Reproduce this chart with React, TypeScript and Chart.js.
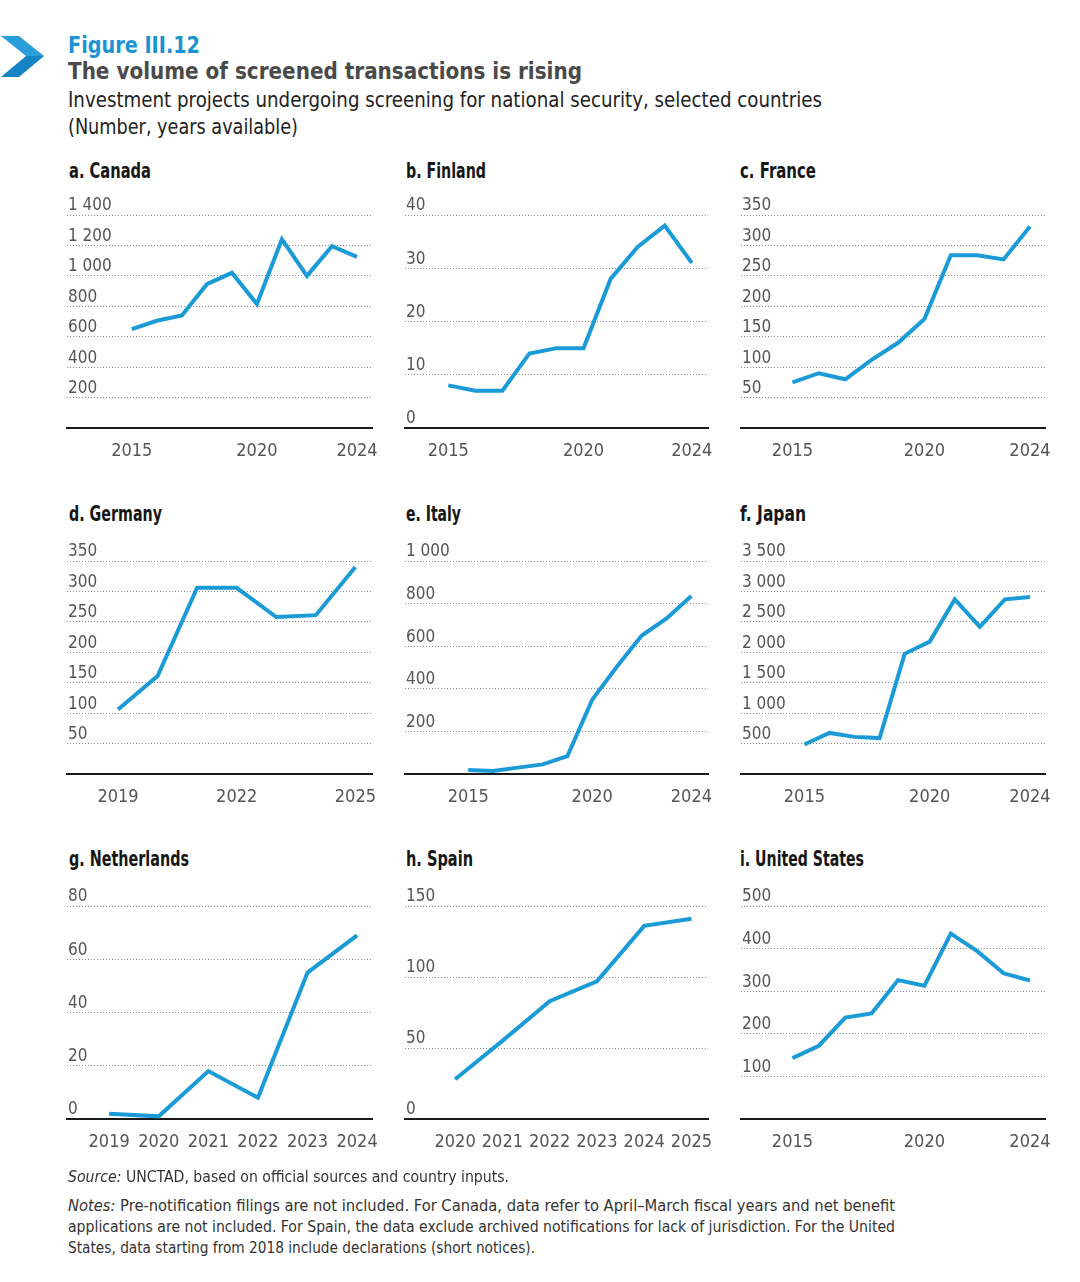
import React, { useEffect, useLayoutEffect, useRef } from 'react';
import { Chart, registerables } from 'chart.js';

Chart.register(...registerables);

const FONT = "'Liberation Sans Narrow', 'DejaVu Sans Condensed', 'Roboto Condensed', 'Arial Narrow', 'Liberation Sans', sans-serif";
const LINE_COLOR = '#1a9bd7';
const GRID_COLOR = '#8a8a8a';
const TICK_COLOR = '#555555';
const BLUE = '#1b93d3';

// ---------- data ----------
const canadaYears = [2015, 2016, 2017, 2018, 2019, 2020, 2021, 2022, 2023, 2024];
const canadaValues = [650, 705, 740, 945, 1020, 815, 1240, 1000, 1195, 1125];
const canadaXTicks = [2015, 2020, 2024];

const finlandYears = [2015, 2016, 2017, 2018, 2019, 2020, 2021, 2022, 2023, 2024];
const finlandValues = [8, 7, 7, 14, 15, 15, 28, 34, 38, 31];
const finlandXTicks = [2015, 2020, 2024];

const franceYears = [2015, 2016, 2017, 2018, 2019, 2020, 2021, 2022, 2023, 2024];
const franceValues = [75, 90, 80, 112, 140, 179, 284, 284, 277, 331];
const franceXTicks = [2015, 2020, 2024];

const germanyYears = [2019, 2020, 2021, 2022, 2023, 2024, 2025];
const germanyValues = [106, 161, 306, 306, 258, 261, 340];
const germanyXTicks = [2019, 2022, 2025];

const italyYears = [2015, 2016, 2017, 2018, 2019, 2020, 2021, 2022, 2023, 2024];
const italyValues = [19, 14, 30, 45, 84, 349, 505, 650, 730, 836];
const italyXTicks = [2015, 2020, 2024];

const japanYears = [2015, 2016, 2017, 2018, 2019, 2020, 2021, 2022, 2023, 2024];
const japanValues = [485, 675, 610, 590, 1975, 2175, 2870, 2420, 2870, 2910];
const japanXTicks = [2015, 2020, 2024];

const netherlandsYears = [2019, 2020, 2021, 2022, 2023, 2024];
const netherlandsValues = [2, 1, 18, 8, 55, 69];
const netherlandsXTicks = [2019, 2020, 2021, 2022, 2023, 2024];

const spainYears = [2020, 2021, 2022, 2023, 2024, 2025];
const spainValues = [28, 55, 83, 97, 136, 141];
const spainXTicks = [2020, 2021, 2022, 2023, 2024, 2025];

const usYears = [2015, 2016, 2017, 2018, 2019, 2020, 2021, 2022, 2023, 2024];
const usValues = [143, 172, 238, 248, 326, 313, 435, 394, 342, 325];
const usXTicks = [2015, 2020, 2024];

// ---------- layout ----------
const COLS = [
  { left: 67, right: 372, titleX: 69 },
  { left: 405, right: 708, titleX: 406 },
  { left: 741, right: 1045, titleX: 740 },
];
const ROWS = [
  { top: 215, base: 428, titleY: 171 },
  { top: 561, base: 774, titleY: 514 },
  { top: 906, base: 1119, titleY: 859 },
];
const PAD_L = 20;
const PAD_R = 30;
const PAD_T = 34;
const PAD_B = 6;

type PanelSpec = {
  title: string;
  titleW: number;
  years: number[];
  values: number[];
  xTicks: number[];
  xMin: number;
  xMax: number;
  yMax: number;
  yStep: number;
  showZero: boolean;
  col: number;
  row: number;
};

const panels: PanelSpec[] = [
  { title: 'a. Canada', titleW: 82, years: canadaYears, values: canadaValues, xTicks: canadaXTicks, xMin: 2012.41, xMax: 2024.6, yMax: 1400, yStep: 200, showZero: false, col: 0, row: 0 },
  { title: 'b. Finland', titleW: 80, years: finlandYears, values: finlandValues, xTicks: finlandXTicks, xMin: 2013.4, xMax: 2024.6, yMax: 40, yStep: 10, showZero: true, col: 1, row: 0 },
  { title: 'c. France', titleW: 76, years: franceYears, values: franceValues, xTicks: franceXTicks, xMin: 2013.05, xMax: 2024.57, yMax: 350, yStep: 50, showZero: false, col: 2, row: 0 },
  { title: 'd. Germany', titleW: 93, years: germanyYears, values: germanyValues, xTicks: germanyXTicks, xMin: 2017.71, xMax: 2025.42, yMax: 350, yStep: 50, showZero: false, col: 0, row: 1 },
  { title: 'e. Italy', titleW: 55, years: italyYears, values: italyValues, xTicks: italyXTicks, xMin: 2012.45, xMax: 2024.67, yMax: 1000, yStep: 200, showZero: false, col: 1, row: 1 },
  { title: 'f. Japan', titleW: 66, years: japanYears, values: japanValues, xTicks: japanXTicks, xMin: 2012.47, xMax: 2024.6, yMax: 3500, yStep: 500, showZero: false, col: 2, row: 1 },
  { title: 'g. Netherlands', titleW: 120, years: netherlandsYears, values: netherlandsValues, xTicks: netherlandsXTicks, xMin: 2018.15, xMax: 2024.3, yMax: 80, yStep: 20, showZero: true, col: 0, row: 2 },
  { title: 'h. Spain', titleW: 67, years: spainYears, values: spainValues, xTicks: spainXTicks, xMin: 2018.94, xMax: 2025.35, yMax: 150, yStep: 50, showZero: true, col: 1, row: 2 },
  { title: 'i. United States', titleW: 124, years: usYears, values: usValues, xTicks: usXTicks, xMin: 2013.05, xMax: 2024.57, yMax: 500, yStep: 100, showZero: false, col: 2, row: 2 },
];

function fmtThousands(v: number): string {
  if (Math.abs(v) >= 1000) {
    const t = Math.floor(v / 1000);
    const r = Math.round(v % 1000);
    return `${t} ${String(r).padStart(3, '0')}`;
  }
  return String(v);
}

function makeConfig(p: PanelSpec): any {
  return {
    type: 'line',
    data: {
      datasets: [
        {
          data: p.years.map((yr, i) => ({ x: yr, y: p.values[i] })),
          borderColor: LINE_COLOR,
          backgroundColor: LINE_COLOR,
          borderWidth: 4,
          pointRadius: 0,
          pointHoverRadius: 0,
          tension: 0,
          fill: false,
          borderJoinStyle: 'miter',
          borderCapStyle: 'butt',
        },
      ],
    },
    options: {
      animation: false,
      responsive: false,
      maintainAspectRatio: false,
      events: [],
      layout: { padding: { left: PAD_L, right: PAD_R, top: PAD_T, bottom: PAD_B } },
      plugins: { legend: { display: false }, tooltip: { enabled: false }, title: { display: false } },
      scales: {
        x: {
          type: 'linear',
          min: p.xMin,
          max: p.xMax,
          grid: { display: false, drawTicks: false },
          border: { display: true, color: '#1a1a1a', width: 2 },
          afterBuildTicks: (axis: any) => {
            axis.ticks = p.xTicks.map((v) => ({ value: v }));
          },
          ticks: {
            autoSkip: false,
            maxRotation: 0,
            minRotation: 0,
            padding: 14,
            color: TICK_COLOR,
            font: { family: FONT, size: 18, lineHeight: 1 },
            callback: (v: any) => String(v),
          },
        },
        y: {
          type: 'linear',
          min: 0,
          max: p.yMax,
          grid: {
            drawTicks: false,
            lineWidth: 1,
            color: (ctx: any) => (ctx.tick && ctx.tick.value === 0 ? 'rgba(0,0,0,0)' : GRID_COLOR),
          },
          border: { display: false, dash: [1, 2] },
          ticks: {
            stepSize: p.yStep,
            mirror: true,
            padding: 1,
            labelOffset: -9,
            color: TICK_COLOR,
            font: { family: FONT, size: 17, lineHeight: 1 },
            callback: (v: any) => (v === 0 && !p.showZero ? '' : fmtThousands(v)),
          },
        },
      },
    },
  };
}

function MiniChart({ p }: { p: PanelSpec }) {
  const ref = useRef<HTMLCanvasElement | null>(null);
  const col = COLS[p.col];
  const row = ROWS[p.row];
  const areaW = col.right - col.left;
  const areaH = row.base - row.top;
  const initW = areaW + PAD_L + PAD_R;
  const initH = areaH + PAD_T + PAD_B + 46;

  useEffect(() => {
    const canvas = ref.current;
    if (!canvas) return;
    let w = initW;
    let h = initH;
    const build = () => {
      canvas.width = w;
      canvas.height = h;
      canvas.style.width = w + 'px';
      canvas.style.height = h + 'px';
      return new Chart(canvas, makeConfig(p));
    };
    let chart = build();
    let ca = chart.chartArea;
    const dw = areaW - (ca.right - ca.left);
    const dh = areaH - (ca.bottom - ca.top);
    if (Math.abs(dw) > 0.5 || Math.abs(dh) > 0.5) {
      chart.destroy();
      w = Math.round(w + dw);
      h = Math.round(h + dh);
      chart = build();
      ca = chart.chartArea;
    }
    canvas.style.left = col.left - ca.left + 'px';
    canvas.style.top = row.top - ca.top + 'px';
    return () => {
      chart.destroy();
    };
  }, []);

  return (
    <canvas
      ref={ref}
      width={initW}
      height={initH}
      style={{ position: 'absolute', left: col.left - PAD_L, top: row.top - PAD_T, width: initW, height: initH }}
    />
  );
}

function Txt({ x, cy, w, size, weight = 400, color = '#222', children }: any) {
  const ref = useRef<HTMLDivElement | null>(null);
  useLayoutEffect(() => {
    const el = ref.current;
    if (!el) return;
    const fit = () => {
      el.style.transform = 'none';
      const nat = el.getBoundingClientRect().width;
      if (w && nat > 0) el.style.transform = `scaleX(${w / nat})`;
    };
    fit();
    const fonts = (document as any).fonts;
    if (fonts && fonts.ready) fonts.ready.then(fit);
  }, []);
  return (
    <div
      ref={ref}
      style={{
        position: 'absolute',
        left: x,
        top: cy - size * 0.58,
        fontFamily: FONT,
        fontSize: size,
        fontWeight: weight,
        color,
        lineHeight: `${size * 1.2}px`,
        whiteSpace: 'nowrap',
        transformOrigin: '0 0',
      }}
    >
      {children}
    </div>
  );
}

export default function App() {
  return (
    <div
      style={{
        position: 'absolute',
        left: 0,
        top: 0,
        width: 1080,
        height: 1282,
        background: '#ffffff',
        overflow: 'hidden',
        fontFamily: FONT,
      }}
    >
      <svg width={50} height={50} style={{ position: 'absolute', left: 0, top: 34 }} viewBox="0 0 50 50">
        <polygon points="1,2 19,2 44,22 26,22" fill="#2a9ddb" />
        <polygon points="26,22 44,22 19,43 1,43" fill="#1683c4" />
      </svg>
      <Txt x={68} cy={45.5} w={132} size={23} weight={700} color={BLUE}>
        Figure III.12
      </Txt>
      <Txt x={68} cy={71} w={514} size={23} weight={700} color="#4a4a4a">
        The volume of screened transactions is rising
      </Txt>
      <Txt x={68} cy={100} w={754} size={21} color="#222">
        Investment projects undergoing screening for national security, selected countries
      </Txt>
      <Txt x={68} cy={127} w={230} size={21} color="#222">
        (Number, years available)
      </Txt>

      {panels.map((p) => (
        <Txt key={'t' + p.title} x={COLS[p.col].titleX} cy={ROWS[p.row].titleY} w={p.titleW} size={21} weight={700} color="#161616">
          {p.title}
        </Txt>
      ))}
      {panels.map((p) => (
        <MiniChart key={p.title} p={p} />
      ))}

      <Txt x={68} cy={1176} w={441} size={16} color="#333">
        <span style={{ fontStyle: 'italic' }}>Source:</span> UNCTAD, based on official sources and country inputs.
      </Txt>
      <Txt x={68} cy={1205} w={827} size={16} color="#333">
        <span style={{ fontStyle: 'italic' }}>Notes:</span> Pre-notification filings are not included. For Canada, data refer to April–March fiscal years and net benefit
      </Txt>
      <Txt x={68} cy={1226} w={827} size={16} color="#333">
        applications are not included. For Spain, the data exclude archived notifications for lack of jurisdiction. For the United
      </Txt>
      <Txt x={68} cy={1247} w={467} size={16} color="#333">
        States, data starting from 2018 include declarations (short notices).
      </Txt>
    </div>
  );
}
